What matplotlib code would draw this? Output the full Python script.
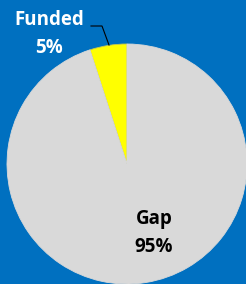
import matplotlib.pyplot as plt

# slice data
labels = ['Funded', 'Gap']
shares = [5, 95]
colors = ['#FFFF00', '#D9D9D9']

fig = plt.figure(figsize=(2.46, 2.84), dpi=100)
fig.patch.set_facecolor('#0070C0')

# pie axis placed so the circle is centred near (127, 164) px, r ~120 px
ax = fig.add_axes([(127 - 120) / 246, (284 - 164 - 120) / 284, 240 / 246, 240 / 284])
ax.set_facecolor('#0070C0')

wedges, _ = ax.pie(shares, colors=colors, startangle=90, counterclock=True,
                   wedgeprops=dict(linewidth=0.6, edgecolor='#C8C850'))
wedges[1].set_edgecolor('#D9D9D9')
ax.set_aspect('equal')
ax.set_xlim(-1, 1)
ax.set_ylim(-1, 1)
ax.axis('off')

font = dict(family=['Open Sans', 'DejaVu Sans'], weight='bold', fontsize=13.5)

# Gap label inside the slice
ax.text(0.225, -0.575, labels[1] + '\n' + str(shares[1]) + '%', ha='center', va='center',
        color='black', linespacing=1.55, **font)

# Funded label outside, with leader line
fig.text(49 / 246, 1 - 34 / 284, labels[0] + '\n' + str(shares[0]) + '%', ha='center', va='center',
         color='white', linespacing=1.55, **font)
fig.add_artist(plt.Line2D([91 / 246, 102 / 246, 109 / 246],
                          [1 - 26 / 284, 1 - 26 / 284, 1 - 45 / 284],
                          color='black', linewidth=0.8))

fig.savefig('out.png', dpi=100, facecolor=fig.get_facecolor())
